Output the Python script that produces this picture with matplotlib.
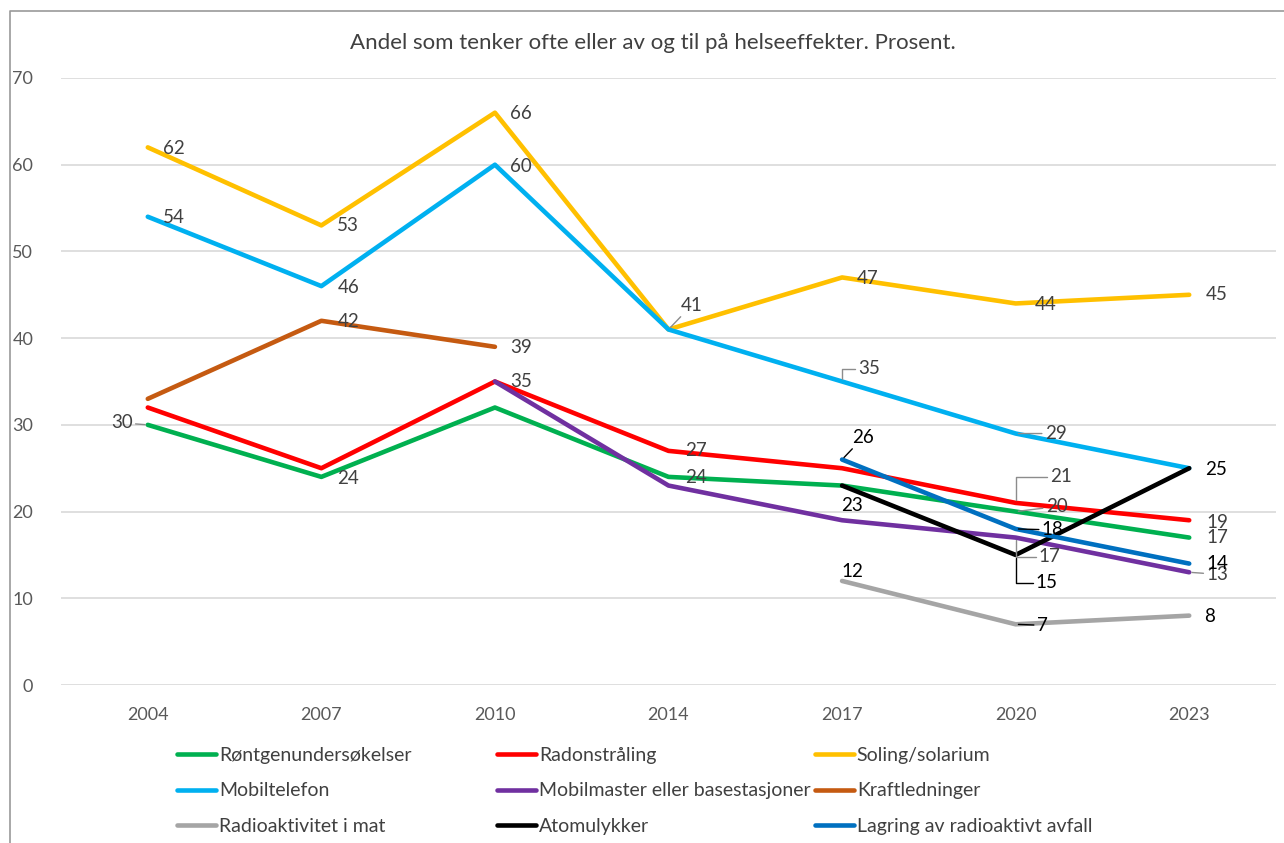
import numpy as np
import matplotlib
matplotlib.use("Agg")
import matplotlib.pyplot as plt
from matplotlib.lines import Line2D

plt.rcParams["font.family"] = ["Lato", "DejaVu Sans"]

# data (None = not asked that year)
years = ["2004", "2007", "2010", "2014", "2017", "2020", "2023"]
rontgen = [30, 24, 32, 24, 23, 20, 17]
radon = [32, 25, 35, 27, 25, 21, 19]
soling = [62, 53, 66, 41, 47, 44, 45]
mobiltelefon = [54, 46, 60, 41, 35, 29, 25]
mobilmaster = [None, None, 35, 23, 19, 17, 13]
kraftledninger = [33, 42, 39, None, None, None, None]
mat = [None, None, None, None, 12, 7, 8]
atomulykker = [None, None, None, None, 23, 15, 25]
lagring = [None, None, None, None, 26, 18, 14]

series = [
    ("Røntgenundersøkelser", rontgen, "#00B050"),
    ("Radonstråling", radon, "#FF0000"),
    ("Soling/solarium", soling, "#FFC000"),
    ("Mobiltelefon", mobiltelefon, "#00B0F0"),
    ("Mobilmaster eller basestasjoner", mobilmaster, "#7030A0"),
    ("Kraftledninger", kraftledninger, "#C55A11"),
    ("Radioaktivitet i mat", mat, "#A5A5A5"),
    ("Atomulykker", atomulykker, "#000000"),
    ("Lagring av radioaktivt avfall", lagring, "#0070C0"),
]

# data-label placement: (series index, point index, dx px, dy px, ha, leader)
label_pos = [
    (0, 0, -15, 2, "right", "line"), (0, 1, 16, -2, "left", None),
    (0, 3, 17, -1, "left", None), (0, 5, 30, 5, "left", "line"),
    (0, 6, 17, 0, "left", None),
    (1, 2, 15, 0, "left", None), (1, 3, 17, 0, "left", None),
    (1, 5, 34, 26, "left", "angle"), (1, 6, 17, -2, "left", None),
    (2, 0, 15, -1, "left", None), (2, 1, 16, 0, "left", None),
    (2, 2, 15, -1, "left", None), (2, 3, 12, 24, "left", "line"),
    (2, 4, 15, -1, "left", None), (2, 5, 19, -1, "left", None),
    (2, 6, 17, 0, "left", None),
    (3, 0, 15, -1, "left", None), (3, 1, 16, -1, "left", None),
    (3, 2, 15, -2, "left", None), (3, 4, 16, 13, "left", "angle"),
    (3, 5, 29, 0, "left", "line"),
    (4, 5, 23, -19, "left", "angle"), (4, 6, 17, -2, "left", "line"),
    (5, 1, 16, -1, "left", None), (5, 2, 15, -1, "left", None),
    (6, 4, 10, 9, "center", None), (6, 5, 21, -1, "left", "line"),
    (6, 6, 15, -1, "left", None),
    (7, 4, 10, -20, "center", None), (7, 5, 20, -28, "left", "angle"),
    (7, 6, 16, -1, "left", None),
    (8, 4, 21, 22, "center", "line"), (8, 5, 26, -1, "left", "line"),
    (8, 6, 17, 0, "left", None),
]
dark_labels = {6, 7, 8}

W, H = 1284, 843
fig = plt.figure(figsize=(W / 100, H / 100), dpi=100)
ax = fig.add_axes([61 / W, 1 - 685 / H, (1276 - 61) / W, (685 - 78) / H])

x = np.arange(len(years))
for name, vals, color in series:
    y = np.array([np.nan if v is None else v for v in vals], dtype=float)
    ax.plot(x, y, color=color, lw=3.3, label=name,
            solid_capstyle="round", solid_joinstyle="round")

for si, pi, dx, dy, ha, leader in label_pos:
    val = series[si][1][pi]
    tcol = "#000000" if si in dark_labels else "#404040"
    lcol = "#000000" if si in dark_labels else "#8C8C8C"
    arrow = None
    if leader == "line":
        arrow = dict(arrowstyle="-", color=lcol, lw=1, shrinkA=0, shrinkB=2)
    elif leader == "angle":
        arrow = dict(arrowstyle="-", color=lcol, lw=1, shrinkA=0, shrinkB=2,
                     connectionstyle="angle,angleA=0,angleB=90,rad=0")
    ax.annotate(str(val), (pi, val), xytext=(dx, dy), textcoords="offset pixels",
                ha=ha, va="center", fontsize=13.5, color=tcol, arrowprops=arrow)

ax.set_xlim(-0.5, len(years) - 0.5)
ax.set_ylim(0, 70)
ax.set_yticks(range(0, 71, 10))
ax.set_xticks(x)
ax.set_xticklabels(years)
ax.tick_params(length=0, labelsize=13, labelcolor="#595959")
ax.tick_params(axis="y", pad=20)
ax.tick_params(axis="x", pad=16)
ax.grid(axis="y", color="#D9D9D9", lw=1.2)
ax.set_axisbelow(True)
for s in ax.spines.values():
    s.set_visible(False)

fig.text(653 / W, 1 - 43 / H, "Andel som tenker ofte eller av og til på helseeffekter. Prosent.",
         ha="center", va="center", fontsize=16, color="#404040")

# legend: three columns of equal width like the original
handles, names = ax.get_legend_handles_labels()
col_x = [177, 497, 815]
for c in range(3):
    fig.legend(handles[c::3], names[c::3], loc="upper left",
               bbox_to_anchor=(col_x[c] / W, 1 - 747 / H), frameon=False,
               fontsize=14, handlelength=2.0, handletextpad=0.15,
               labelspacing=0.95, borderpad=0, borderaxespad=0,
               labelcolor="#404040")

# chart frame (top and left edges visible)
fig.add_artist(Line2D([9.5 / W, 9.5 / W, 1], [0, 1 - 11 / H, 1 - 11 / H],
                      transform=fig.transFigure, color="#999999", lw=1.2))

fig.savefig("out.png", dpi=100)
